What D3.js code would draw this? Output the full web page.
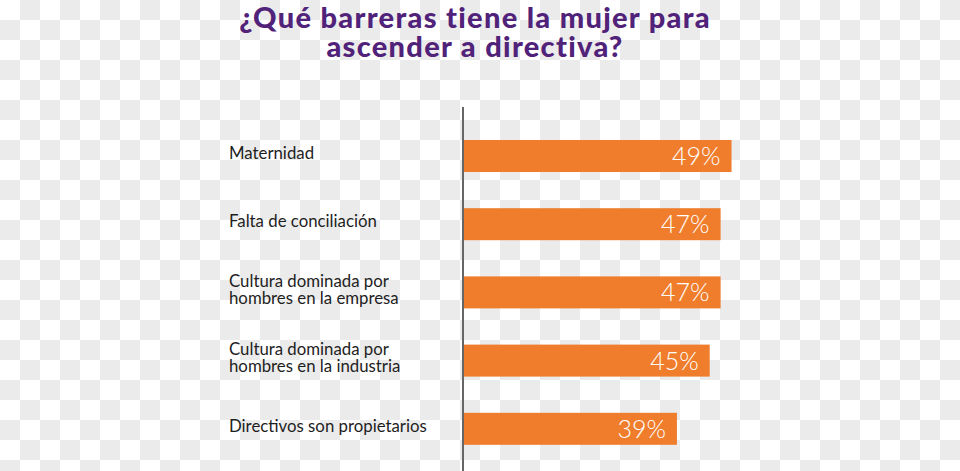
<!DOCTYPE html>
<html>
<head>
<meta charset="utf-8">
<script src="https://cdn.jsdelivr.net/npm/d3@7"></script>
<style>
  html, body { margin: 0; padding: 0; background: #fff; }
  svg { display: block; }
</style>
</head>
<body>
<svg id="chart" width="960" height="471"></svg>
<script>
const titleLines = ["¿Qué barreras tiene la mujer para", "ascender a directiva?"];
const categories = [
  ["Maternidad"],
  ["Falta de conciliación"],
  ["Cultura dominada por", "hombres en la empresa"],
  ["Cultura dominada por", "hombres en la industria"],
  ["Directivos son propietarios"]
];
const values = [49, 47, 47, 45, 39];

const W = 960, H = 471;
const svg = d3.select("#chart");

// transparent-style checkerboard background
const defs = svg.append("defs");
const pat = defs.append("pattern").attr("id", "checker")
  .attr("width", 40).attr("height", 40).attr("patternUnits", "userSpaceOnUse");
pat.append("rect").attr("width", 40).attr("height", 40).attr("fill", "#ffffff");
pat.append("rect").attr("x", 20).attr("y", 0).attr("width", 20).attr("height", 20).attr("fill", "#ebebeb");
pat.append("rect").attr("x", 0).attr("y", 20).attr("width", 20).attr("height", 20).attr("fill", "#ebebeb");
svg.append("rect").attr("width", W).attr("height", H).attr("fill", "url(#checker)");

// title
svg.append("g").selectAll("text").data(titleLines).join("text")
  .attr("x", 475)
  .attr("y", (d, i) => 28 + i * 28.5)
  .attr("text-anchor", "middle")
  .attr("font-family", "Lato, 'Open Sans', sans-serif")
  .attr("font-weight", 900)
  .attr("font-size", 29)
  .attr("letter-spacing", 1.3)
  .attr("fill", "#512279")
  .text(d => d);

const idx = d3.range(values.length);
const y = d3.scalePoint().domain(idx).range([156, 428.8]);
const x = d3.scaleLinear().domain([0, 100]).range([464, 1010]);
const barH = 32;

// bars
svg.append("g").selectAll("rect").data(idx).join("rect")
  .attr("x", x(0))
  .attr("y", i => y(i) - barH / 2)
  .attr("width", i => x(values[i]) - x(0))
  .attr("height", barH)
  .attr("fill", "#ef7d2c");

// value labels
svg.append("g").selectAll("text").data(idx).join("text")
  .attr("x", i => x(values[i]) - 11)
  .attr("y", i => y(i) + 9)
  .attr("text-anchor", "end")
  .attr("font-family", "Lato, sans-serif")
  .attr("font-weight", 300)
  .attr("font-size", 25)
  .attr("fill", "#ffffff")
  .text(i => values[i] + "%");

// category labels
const lab = svg.append("g").selectAll("text").data(idx).join("text")
  .attr("font-family", "Lato, sans-serif")
  .attr("font-size", 16.8)
  .attr("fill", "#1e1e1e")
  .attr("y", i => y(i) + 3 - (categories[i].length - 1) * 8.7);
lab.selectAll("tspan").data(i => categories[i]).join("tspan")
  .attr("x", 229)
  .attr("dy", (d, j) => j === 0 ? 0 : 17.4)
  .text(d => d);

// vertical axis line
svg.append("line")
  .attr("x1", 463).attr("x2", 463)
  .attr("y1", 107).attr("y2", H)
  .attr("stroke", "#666").attr("stroke-width", 2);
</script>
</body>
</html>
